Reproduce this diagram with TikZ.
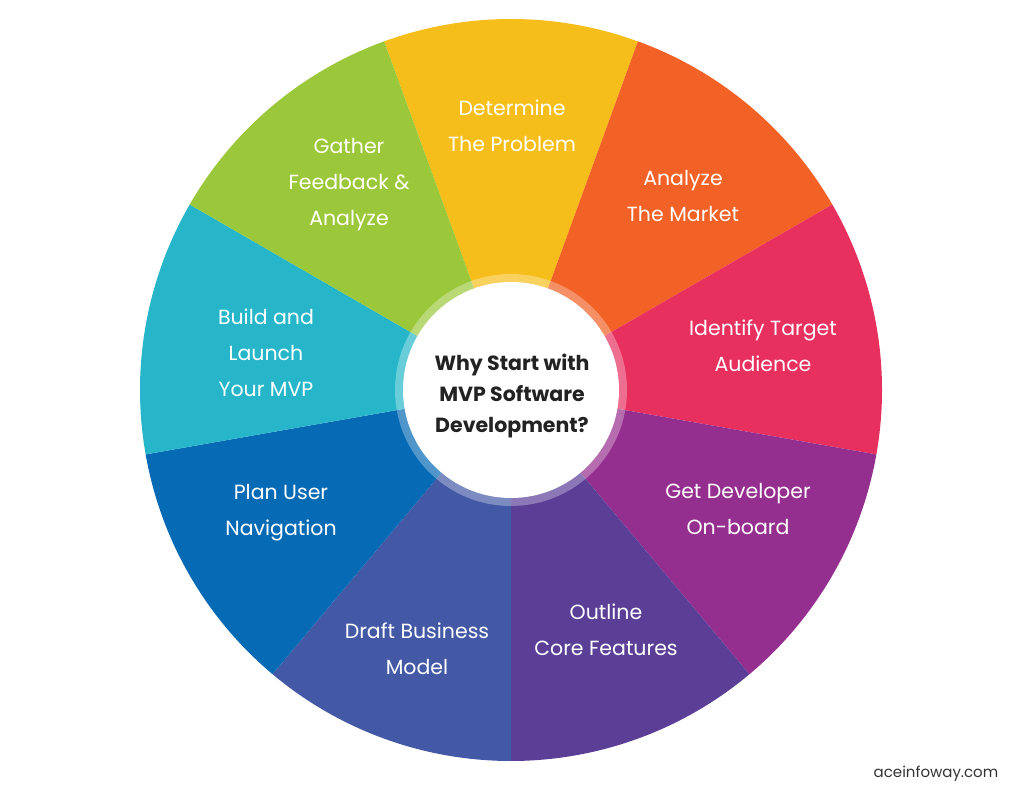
\documentclass[tikz,border=0pt]{standalone}
\usepackage{fontspec}
\setmainfont{Poppins}
\definecolor{cYel}{HTML}{F6BE1A}
\definecolor{cOra}{HTML}{F26125}
\definecolor{cRed}{HTML}{E8305F}
\definecolor{cMag}{HTML}{952F8F}
\definecolor{cPur}{HTML}{5B3F97}
\definecolor{cInd}{HTML}{4459A6}
\definecolor{cBlu}{HTML}{076AB4}
\definecolor{cCya}{HTML}{27B6C9}
\definecolor{cGre}{HTML}{9BC83B}
\definecolor{cTxt}{HTML}{222222}
\definecolor{cUrl}{HTML}{333333}
\begin{document}
\begin{tikzpicture}[x=1pt,y=1pt,
  seglabel/.style={text=white, align=center, inner sep=0pt, font=\fontsize{20.5}{36}\selectfont},
  centerlabel/.style={text=cTxt, align=center, inner sep=0pt, font=\bfseries\fontsize{20.5}{31}\selectfont}]
\useasboundingbox (0,0) rectangle (1024,800);
\coordinate (C) at (511,410);
\begin{scope}[shift={(511,410)}]
\foreach \a/\b/\c in {70/110/cYel, 30/70/cOra, -10/30/cRed, -50/-10/cMag, -90/-50/cPur, -130/-90/cInd, -170/-130/cBlu, 150/190/cCya, 110/150/cGre}{
  \fill[\c] (0,0) -- (\a:371) arc[start angle=\a, end angle=\b, radius=371] -- cycle;
}
\fill[white, opacity=0.3] (0,0) circle (116);
\fill[white] (0,0) circle (108);
\end{scope}
\node[centerlabel] (center) at (512,404) {Why Start with\\MVP Software\\Development?};
\node[seglabel] (s1) at (512,674) {Determine\\The Problem};
\node[seglabel] (s2) at (683,604) {Analyze\\The Market};
\node[seglabel] (s3) at (763,454) {Identify Target\\Audience};
\node[seglabel] (s4) at (738,291) {Get Developer\\On-board};
\node[seglabel] (s5) at (606,170) {Outline\\Core Features};
\node[seglabel] (s6) at (417,151) {Draft Business\\Model};
\node[seglabel] (s7) at (281,287) {Plan User\\Navigation};
\node[seglabel] (s8) at (266,447) {Build and\\Launch\\Your MVP};
\node[seglabel] (s9) at (349,615) {Gather\\Feedback \&\\Analyze};
\node[text=cUrl, inner sep=0pt, font=\fontsize{15}{17}\selectfont] (url) at (936,26) {aceinfoway.com};
\end{tikzpicture}
\end{document}
